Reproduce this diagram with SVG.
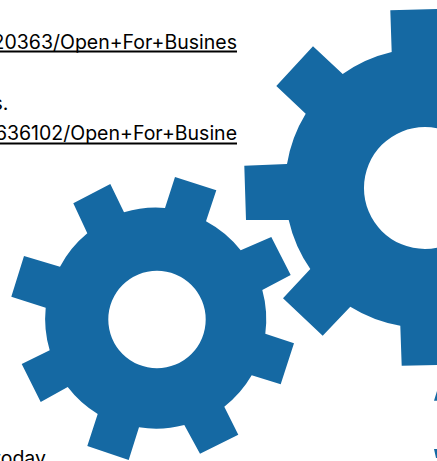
<svg xmlns="http://www.w3.org/2000/svg" width="437" height="461" viewBox="0 0 437 461">
<style>
.gear{fill:#1569a3}
.p{font-family:"Inter","Noto Sans","Liberation Sans",sans-serif;font-size:19.500px;fill:#000}
.u{fill:#000}
</style>
<text class="p" x="237" y="49" text-anchor="end">20363/Open+For+Busines</text>
<rect class="u" x="0" y="50.500" width="237" height="2"/>
<text class="p" x="8.500" y="110" text-anchor="end">s.</text>
<text class="p" x="237" y="140" text-anchor="end">636102/Open+For+Busine</text>
<rect class="u" x="0" y="142.500" width="237" height="2"/>
<text class="p" x="46" y="465" text-anchor="end">today</text>
<g id="gear-small">
<path class="gear" fill-rule="evenodd" d="M124 212.300L110.300 184L73.300 203.300L87.300 233.300A110.500 110.500 0 0 0 60 266.700L24 256L11.300 296.700L45.700 307.700A110.500 110.500 0 0 0 49.700 350.300L21.700 364L40.700 402L67.700 387A110.500 110.500 0 0 0 97.700 414L87.300 446L128.700 460L139 427.300A110.500 110.500 0 0 0 184.300 425L200 453.700L238.300 434.700L224.300 406.700A110.500 110.500 0 0 0 251.700 375.300L280.700 384.300L294 343.300L265.300 333.700A110.500 110.500 0 0 0 262.300 290L290.700 275L271.300 237L240.700 250.300A110.500 110.500 0 0 0 206 221.300L216.300 190.300L175 177L165 208A110.500 110.500 0 0 0 124 212.300ZM157 270.800A48.700 48.700 0 1 0 157 368.200A48.700 48.700 0 1 0 157 270.800Z"/>
</g>
<g id="gear-large">
<path class="gear" fill-rule="evenodd" d="M390.300 10.300L391.700 52A140 140 0 0 0 342.700 74L313 46.300L276.300 86L305.700 113.700A140 140 0 0 0 287 164L244.300 165.700L246 220L288.700 220A140 140 0 0 0 310.300 269L283 298.300L322.700 335.700L350.300 306.700A140 140 0 0 0 400.300 325.700L401.700 365.700L440 365L440 9ZM425 127A61 61 0 1 0 425 249A61 61 0 1 0 425 127Z"/>
</g>
<path class="gear" d="M437 391L434 400.700L437 400.700ZM434 449L436 458L437 458L437 449Z"/>
</svg>
